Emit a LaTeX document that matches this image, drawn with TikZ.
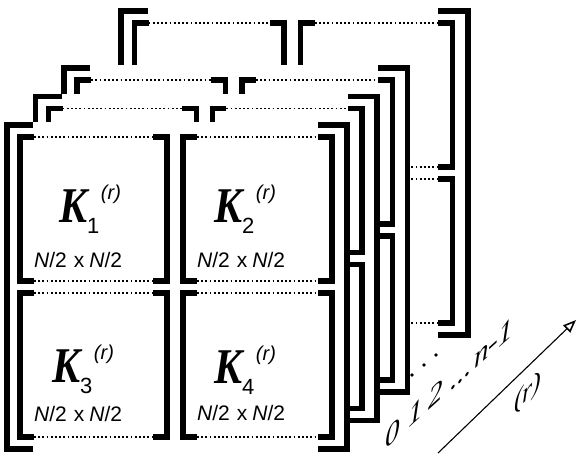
\documentclass[tikz,border=0pt]{standalone}
\usepackage{fontspec}
\setmainfont{Liberation Serif}
\setsansfont{Liberation Sans}
\usetikzlibrary{arrows.meta}

% font shortcuts
\newcommand\Kf{\fontsize{50}{50}\selectfont\bfseries\itshape}
\newcommand\Sf{\fontsize{22}{22}\selectfont\sffamily}
\newcommand\Pf{\fontsize{20}{20}\selectfont\sffamily\itshape}
\newcommand\Df{\fontsize{21}{21}\selectfont\sffamily}
\newcommand\Af{\fontsize{29}{29}\selectfont\itshape}

% block label K_i^(r)
\newcommand\Kgroup[1]{\scalebox{0.84}[1]{\Kf K}\raisebox{-11pt}{\Sf #1}\kern1.5pt\raisebox{23pt}{\Pf (r)}}
\newcommand\dimlabel{\Df\textit{N}/2\hspace{7pt}x\hspace{5pt}\textit{N}/2}

% one layer of the stack: outer bracket pair holding 2x2 bracketed blocks
% #1,#2 = top-left corner of the outer bracket, #3 = horizontal stretch
\newcommand\drawlayer[3]{%
  \begin{scope}[shift={(#1,#2)}, xscale=#3]
    \fill[white] (-2.75,-2.75) rectangle (342.75,326.75);
    \draw[brk] (26,0) -- (0,0) -- (0,324) -- (26,324);
    \draw[brk] (311,0) -- (340,0) -- (340,324) -- (311,324);
    \foreach \xl/\xr in {13/160,176/325}{
      \foreach \yt/\yb in {12/156,168/312}{
        \draw[brk] (\xl+14,\yt) -- (\xl,\yt) -- (\xl,\yb) -- (\xl+14,\yb);
        \draw[brk] (\xr-14,\yt) -- (\xr,\yt) -- (\xr,\yb) -- (\xr-14,\yb);
        \draw[dots] (\xl+14,\yt) -- (\xr-14,\yt);
        \draw[dots] (\xl+14,\yb) -- (\xr-14,\yb);
      }
    }
  \end{scope}}

\begin{document}
\begin{tikzpicture}[x=1pt,y=-1pt,
  brk/.style={line width=5.5pt, line cap=butt, line join=miter},
  dots/.style={line width=1.1pt, dash pattern=on 1.8pt off 2.4pt},
  lbl/.style={anchor=base west, inner sep=0pt},
  axl/.style={anchor=base west, inner sep=0pt, yslant=0.9, font=\Af}]
\useasboundingbox (0,0) rectangle (577,455);

% stack of layers, back to front
\drawlayer{121}{11}{1.02}
\drawlayer{64}{68}{1.01}
\drawlayer{35.5}{96.5}{1.005}
\drawlayer{7}{125}{1}

% block labels of the front layer
\node[lbl] (k1) at (59,222) {\Kgroup{1}};
\node[lbl] (k2) at (214,222) {\Kgroup{2}};
\node[lbl] (k3) at (52,382) {\Kgroup{3}};
\node[lbl] (k4) at (214,383) {\Kgroup{4}};
\node[lbl] (d1) at (34,267) {\dimlabel};
\node[lbl] (d2) at (197,267) {\dimlabel};
\node[lbl] (d3) at (34,421) {\dimlabel};
\node[lbl] (d4) at (197,420) {\dimlabel};

% gap marks between the last shown layers
\fill (412,375) circle (1.9);
\fill (424,365) circle (1.9);
\fill (436,355) circle (1.9);

% layer index axis
\node[axl] (i0) at (385,450) {0};
\node[axl] (i1) at (408,429) {1};
\node[axl] (i2) at (428,411) {2};
\node[axl] (i3) at (450,392) {...};
\node[axl] (i4) at (474,370) {n-1};

\coordinate (a0) at (438,453);
\coordinate (a1) at (576,320);
\draw[line width=1.1pt, -{Triangle[open, length=13pt, width=10pt, line width=1.6pt]}] (a0) -- (a1);
\node[axl, font=\fontsize{26}{26}\selectfont\itshape] (ar) at (514,412) {(r)};
\end{tikzpicture}
\end{document}
